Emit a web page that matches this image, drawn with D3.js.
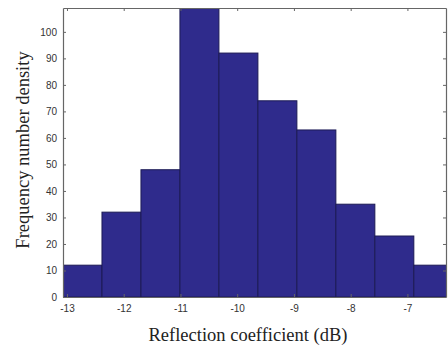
<!DOCTYPE html>
<html>
<head>
<meta charset="utf-8">
<script src="https://cdn.jsdelivr.net/npm/d3@7"></script>
<style>
  body { margin: 0; background: #fff; }
  svg { display: block; }
</style>
</head>
<body>
<div id="chart"></div>
<script>
// histogram data (bin start, bin width, counts)
const binStart = -13.07;
const binWidth = 0.687;
const counts = [12, 32, 48, 112, 92, 74, 63, 35, 23, 12];
const xTicks = [-13, -12, -11, -10, -9, -8, -7];
const yTicks = [0, 10, 20, 30, 40, 50, 60, 70, 80, 90, 100];

const width = 448, height = 347;
const margin = { top: 8, right: 2, bottom: 50, left: 63 };
const iw = width - margin.left - margin.right;
const ih = height - margin.top - margin.bottom;

const svg = d3.select("#chart").append("svg")
  .attr("width", width).attr("height", height);

const x = d3.scaleLinear().domain([binStart, -6.32]).range([0, iw]);
const y = d3.scaleLinear().domain([0, 109]).range([ih, 0]);

svg.append("defs").append("clipPath").attr("id", "clip")
  .append("rect").attr("width", iw).attr("height", ih);

const g = svg.append("g").attr("transform", `translate(${margin.left},${margin.top})`);

// bars
g.append("g").attr("clip-path", "url(#clip)")
  .selectAll("rect")
  .data(counts)
  .join("rect")
  .attr("x", (d, i) => x(binStart + i * binWidth))
  .attr("width", x(binStart + binWidth) - x(binStart))
  .attr("y", d => y(d))
  .attr("height", d => y(0) - y(d))
  .attr("fill", "#2f2b8c")
  .attr("stroke", "#1c1a55")
  .attr("stroke-width", 1);

const axisColor = "#666";
const plain = d => String(d); // keep ascii hyphen like the original

// bottom axis
const xb = g.append("g").attr("transform", `translate(0,${ih})`)
  .call(d3.axisBottom(x).tickValues(xTicks).tickFormat(plain).tickSizeInner(-3).tickSizeOuter(0).tickPadding(8));
// top axis (mirrored ticks)
const xt = g.append("g")
  .call(d3.axisTop(x).tickValues(xTicks).tickSizeInner(-3).tickSizeOuter(0).tickFormat(""));
// left axis
const yl = g.append("g")
  .call(d3.axisLeft(y).tickValues(yTicks).tickFormat(plain).tickSizeInner(-3).tickSizeOuter(0).tickPadding(6));
// right axis
const yr = g.append("g").attr("transform", `translate(${iw},0)`)
  .call(d3.axisRight(y).tickValues(yTicks).tickSizeInner(-3).tickSizeOuter(0).tickFormat(""));

[xb, xt, yl, yr].forEach(a => {
  a.select(".domain").attr("stroke", axisColor).attr("stroke-width", 1.2);
  a.selectAll(".tick line").attr("stroke", axisColor);
  a.selectAll(".tick text")
    .attr("fill", "#333")
    .style("font-family", "Liberation Sans, Arial, sans-serif")
    .style("font-size", "10px");
});

// axis labels
svg.append("text")
  .attr("x", 248).attr("y", 341)
  .attr("text-anchor", "middle")
  .style("font-family", "Liberation Serif, Times New Roman, serif")
  .style("font-size", "18.5px")
  .attr("fill", "#222")
  .text("Reflection coefficient (dB)");

svg.append("text")
  .attr("transform", "translate(29,150) rotate(-90)")
  .attr("text-anchor", "middle")
  .style("font-family", "Liberation Serif, Times New Roman, serif")
  .style("font-size", "18.5px")
  .attr("fill", "#222")
  .text("Frequency number density");
</script>
</body>
</html>
